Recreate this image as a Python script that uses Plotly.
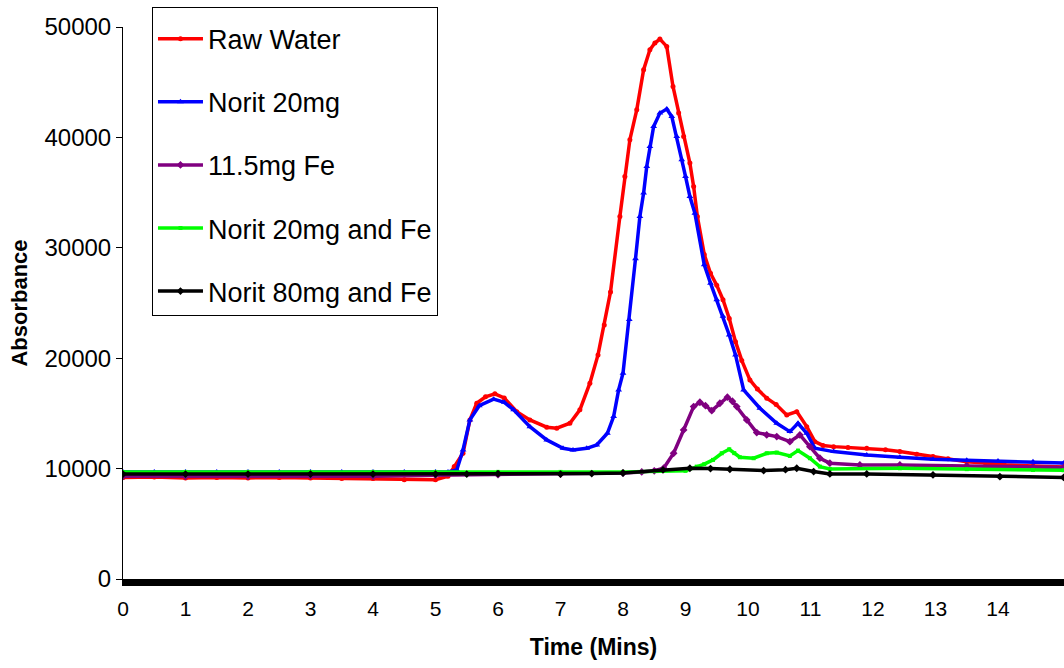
import plotly.graph_objects as go

# Raw water
raw_t = [0, 0.5, 1, 1.5, 2, 2.5, 3, 3.5, 4, 4.5, 5, 5.2, 5.3, 5.44, 5.55, 5.66, 5.8, 5.95,
         6.1, 6.3, 6.51, 6.78, 6.94, 7.15, 7.31, 7.47, 7.6, 7.7, 7.8, 7.95, 8.03, 8.11, 8.22,
         8.33, 8.43, 8.51, 8.59, 8.7, 8.8, 8.89, 8.97, 9.07, 9.13, 9.19, 9.3, 9.4, 9.5, 9.6,
         9.7, 9.8, 9.9, 10.03, 10.15, 10.3, 10.45, 10.62, 10.78, 10.94, 11.07, 11.2, 11.37,
         11.6, 11.9, 12.2, 12.43, 12.7, 12.96, 13.2, 13.5, 13.8, 14.1, 14.56, 15.05]
raw_v = [9200, 9250, 9150, 9200, 9150, 9200, 9150, 9100, 9100, 9000, 9000, 9300, 10200, 11390,
         14410, 15920, 16500, 16770, 16400, 15160, 14410, 13750, 13660, 14110, 15320, 17740,
         20300, 23000, 26000, 32840, 36460, 39790, 42500, 46130, 47940, 48550, 48910, 48240,
         44620, 42200, 40090, 37670, 35550, 32840, 29400, 27700, 26600, 25300, 23600, 21500,
         19800, 18030, 17200, 16380, 15800, 14860, 15160, 13800, 12440, 12100, 11990, 11900,
         11840, 11700, 11540, 11300, 11090, 10900, 10630, 10500, 10350, 10240, 10150]

# Norit 20mg
n20_t = [0, 0.5, 1, 1.5, 2, 2.5, 3, 3.5, 4, 4.5, 5, 5.2, 5.34, 5.44, 5.55, 5.7, 5.93, 6.1,
         6.25, 6.51, 6.78, 7.04, 7.2, 7.42, 7.58, 7.75, 7.85, 7.93, 8.0, 8.1, 8.2, 8.27, 8.33,
         8.38, 8.43, 8.49, 8.59, 8.7, 8.78, 8.86, 8.94, 9.0, 9.07, 9.15, 9.3, 9.4, 9.5, 9.6,
         9.7, 9.8, 9.93, 10.19, 10.46, 10.67, 10.8, 10.94, 11.07, 11.37, 11.9, 12.43, 12.96,
         13.5, 14.0, 14.56, 15.05]
n20_v = [9700, 9700, 9700, 9700, 9700, 9700, 9700, 9700, 9700, 9700, 9700, 9700, 9880, 11690,
         14410, 15700, 16290, 16000, 15320, 13800, 12600, 11840, 11690, 11840, 12140, 13200,
         14710, 17130, 18640, 23500, 29000, 32840, 34960, 37370, 39180, 40990, 42200, 42570,
         41900, 40090, 37970, 36460, 34650, 33140, 28460, 26800, 25290, 23800, 22100, 20300,
         17130, 15470, 14110, 13350, 14110, 13200, 11840, 11540, 11240, 11030, 10850, 10750,
         10680, 10630, 10500]

# 11.5mg Fe
fe_t = [0, 1, 2, 3, 4, 5, 6, 7, 8, 8.3, 8.5, 8.65, 8.81, 8.97, 9.13, 9.23, 9.32, 9.42, 9.55,
        9.67, 9.75, 9.82, 9.98, 10.14, 10.3, 10.46, 10.67, 10.83, 10.99, 11.15, 11.31, 11.79,
        12.43, 13.5, 14.56, 15.05]
fe_v = [9300, 9300, 9300, 9350, 9300, 9400, 9450, 9500, 9600, 9700, 9800, 10030, 11390, 13500,
        15620, 16010, 15700, 15250, 15920, 16470, 16100, 15620, 14410, 13260, 13050, 12900,
        12440, 13050, 11990, 10940, 10490, 10330, 10330, 10240, 10120, 10100]

# Norit 20mg and Fe
n20fe_t = [0, 1, 2, 3, 4, 5, 6, 7, 8, 9.0, 9.18, 9.3, 9.44, 9.58, 9.7, 9.78, 9.87, 10.09,
           10.3, 10.46, 10.67, 10.8, 10.99, 11.15, 11.31, 12.43, 13.5, 14.56, 15.05]
n20fe_v = [9700, 9700, 9700, 9700, 9700, 9700, 9700, 9700, 9700, 9800, 10180, 10400, 10790,
           11390, 11750, 11400, 11030, 10940, 11390, 11450, 11150, 11630, 10940, 10180, 9970,
           10030, 9950, 9880, 9850]

# Norit 80mg and Fe
n80fe_t = [0, 1, 2, 3, 4, 5, 5.5, 6, 7, 7.5, 8, 8.64, 9.07, 9.4, 9.71, 10.25, 10.6, 10.78,
           11.05, 11.31, 11.9, 12.96, 14.03, 15.05]
n80fe_v = [9500, 9500, 9500, 9500, 9500, 9500, 9500, 9550, 9500, 9550, 9600, 9880, 10030,
           10000, 9940, 9820, 9900, 10030, 9730, 9520, 9520, 9430, 9270, 9200]

x_ticks = list(range(0, 15))
y_ticks = [0, 10000, 20000, 30000, 40000, 50000]

series = [
    ("Raw Water", raw_t, raw_v, "#FF0000", "circle", 5),
    ("Norit 20mg", n20_t, n20_v, "#0000FF", "triangle-up", 6),
    ("11.5mg Fe", fe_t, fe_v, "#800080", "diamond", 6),
    ("Norit 20mg and Fe", n20fe_t, n20fe_v, "#00FF00", "square", 4),
    ("Norit 80mg and Fe", n80fe_t, n80fe_v, "#000000", "diamond", 6),
]

fig = go.Figure()
for i, (name, t, v, color, symbol, size) in enumerate(series):
    fig.add_trace(go.Scatter(
        x=t, y=v, name=name, mode="lines+markers",
        legendgroup=f"g{i}",
        line=dict(color=color, width=3.5),
        marker=dict(color=color, symbol=symbol, size=size),
    ))

font_main = "Liberation Sans, Arial, sans-serif"

fig.update_layout(
    width=1064, height=668,
    margin=dict(l=123, r=0, t=27, b=89),
    paper_bgcolor="white", plot_bgcolor="white",
    font=dict(family=font_main, color="black"),
    showlegend=True,
    legend=dict(
        x=0.0308, y=1.036, xanchor="left", yanchor="top",
        bgcolor="white", bordercolor="black", borderwidth=1,
        font=dict(size=27, family=font_main, color="black"),
        title=dict(text=" ", font=dict(size=5)),
        tracegroupgap=25,
        itemwidth=45,
    ),
    xaxis=dict(
        range=[0, 15.056], tickvals=x_ticks, ticktext=[str(v) for v in x_ticks],
        showgrid=False, zeroline=False,
        showline=True, linecolor="black", linewidth=7,
        ticks="", tickfont=dict(size=21, family=font_main),
        ticklabelstandoff=5,
        title=dict(text="<b>Time (Mins)</b>", font=dict(size=23, family=font_main), standoff=22),
    ),
    yaxis=dict(
        range=[0, 50000], tickvals=y_ticks, ticktext=[str(v) for v in y_ticks],
        showgrid=False, zeroline=False,
        showline=True, linecolor="black", linewidth=1,
        ticks="outside", ticklen=6, tickcolor="black",
        tickfont=dict(size=24, family=font_main),
        title=dict(text="<b>Absorbance</b>", font=dict(size=22, family=font_main), standoff=10),
    ),
)

fig.write_html("out.html")
